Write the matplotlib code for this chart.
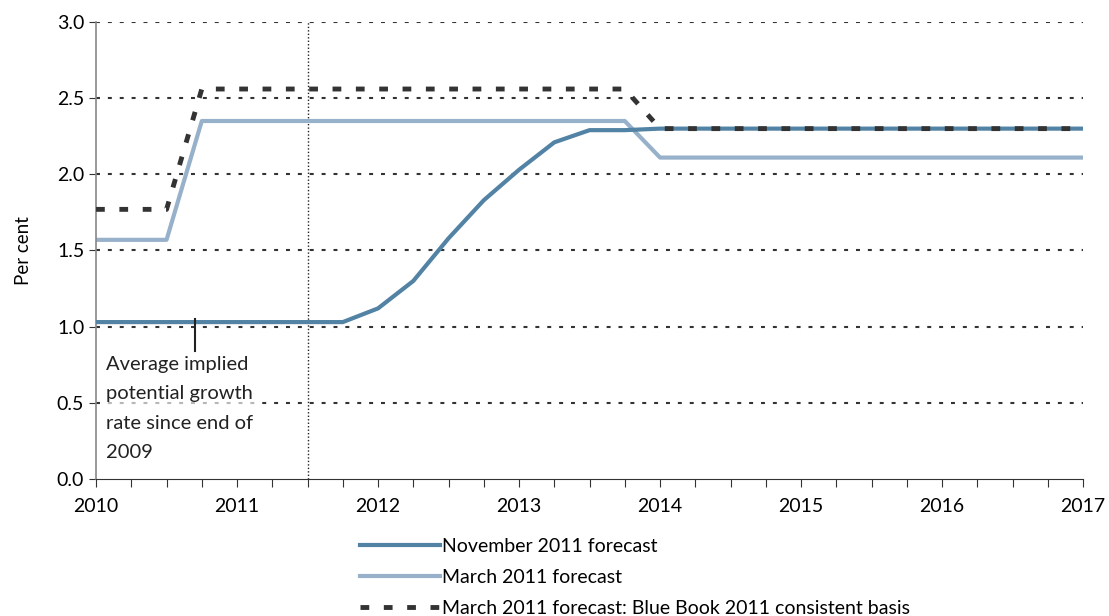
import matplotlib.pyplot as plt
from matplotlib.ticker import MultipleLocator
import numpy as np

plt.rcParams['font.family'] = ['Lato', 'DejaVu Sans']

# Quarterly dates
quarters = [2010.0, 2010.25, 2010.5, 2010.75, 2011.0, 2011.25, 2011.5, 2011.75,
            2012.0, 2012.25, 2012.5, 2012.75, 2013.0, 2013.25, 2013.5, 2013.75,
            2014.0, 2014.25, 2014.5, 2014.75, 2015.0, 2015.25, 2015.5, 2015.75,
            2016.0, 2016.25, 2016.5, 2016.75, 2017.0]

# November 2011 forecast
nov_2011 = [1.03, 1.03, 1.03, 1.03, 1.03, 1.03, 1.03, 1.03,
            1.12, 1.30, 1.58, 1.83, 2.03, 2.21, 2.29, 2.29,
            2.30, 2.30, 2.30, 2.30, 2.30, 2.30, 2.30, 2.30,
            2.30, 2.30, 2.30, 2.30, 2.30]

# March 2011 forecast
mar_2011 = [1.57, 1.57, 1.57, 2.35, 2.35, 2.35, 2.35, 2.35,
            2.35, 2.35, 2.35, 2.35, 2.35, 2.35, 2.35, 2.35,
            2.11, 2.11, 2.11, 2.11, 2.11, 2.11, 2.11, 2.11,
            2.11, 2.11, 2.11, 2.11, 2.11]

# March 2011 forecast on Blue Book 2011 consistent basis
mar_bb = [1.77, 1.77, 1.77, 2.56, 2.56, 2.56, 2.56, 2.56,
          2.56, 2.56, 2.56, 2.56, 2.56, 2.56, 2.56, 2.56,
          2.30, 2.30, 2.30, 2.30, 2.30, 2.30, 2.30, 2.30,
          2.30, 2.30, 2.30, 2.30, 2.30]

year_ticks = [2010, 2011, 2012, 2013, 2014, 2015, 2016, 2017]
y_ticks = [0.0, 0.5, 1.0, 1.5, 2.0, 2.5, 3.0]
divider_x = 2011.5

fig = plt.figure(figsize=(11.09, 6.16), dpi=100)
ax = fig.add_axes([0.0866, 0.2224, 0.89, 0.7419])

# Gridlines
for y in y_ticks[1:]:
    ax.axhline(y, color='#333333', lw=1.5, ls=(0, (1.9, 3.8)), zorder=1)

ax.axvline(divider_x, color='#222222', lw=1.0, ls=(0, (1, 1.5)), zorder=1)

ax.plot(quarters, nov_2011, color='#5283A5', lw=3, label='November 2011 forecast', zorder=3)
ax.plot(quarters, mar_2011, color='#97B1CA', lw=3, label='March 2011 forecast', zorder=2)
ax.plot(quarters, mar_bb, color='#333333', lw=3.5, ls=(0, (1.8, 3.0)),
        label='March 2011 forecast: Blue Book 2011 consistent basis', zorder=4)

# Annotation
ax.plot([2010.7, 2010.7], [1.05, 0.84], color='#222222', lw=1.5, zorder=5)
ax.text(2010.07, 0.81, 'Average implied\npotential growth\nrate since end of\n2009',
        fontsize=14.5, color='#222222', va='top', ha='left', linespacing=1.9,
        bbox=dict(facecolor='white', edgecolor='none', alpha=0.65, pad=2), zorder=5)

ax.set_xlim(2010, 2017)
ax.set_ylim(0, 3)
ax.set_xticks(year_ticks)
ax.xaxis.set_minor_locator(MultipleLocator(0.25))
ax.set_yticks(y_ticks)
ax.set_yticklabels([f'{v:.1f}' for v in y_ticks])
ax.tick_params(axis='x', which='both', direction='out', length=6, width=0.8,
               labelsize=14, pad=8, color='#333333')
ax.tick_params(axis='y', direction='out', length=5, width=0.8, labelsize=14, color='#333333')
ax.set_ylabel('Per cent', fontsize=13.5, labelpad=18)

for side in ['top', 'right']:
    ax.spines[side].set_visible(False)
ax.spines['left'].set_color('#888888')
ax.spines['left'].set_linewidth(1.2)
ax.spines['bottom'].set_color('#333333')

fig.legend(loc='upper left', bbox_to_anchor=(0.318, 0.139), frameon=False,
           fontsize=14, handlelength=4.1, handletextpad=0.1, labelspacing=0.72,
           borderaxespad=0)

fig.savefig('out.png', dpi=100)
